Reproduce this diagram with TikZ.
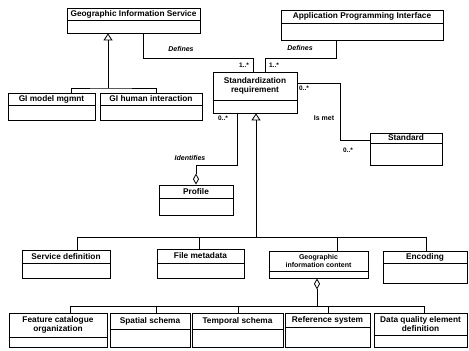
\documentclass[tikz,border=0pt]{standalone}
\usepackage{fontspec}
\setmainfont{Liberation Sans}
\usetikzlibrary{arrows.meta,fit}

\tikzset{
  line/.style={black, line width=0.8pt},
  cls/.style={draw, black, line width=0.8pt, inner sep=0pt},
  clsname/.style={font=\fontsize{8.3}{9.5}\selectfont\bfseries, align=center, inner sep=0pt},
  smallname/.style={font=\fontsize{7}{8}\selectfont\bfseries, align=center, inner sep=0pt},
  role/.style={font=\fontsize{7}{8}\selectfont\bfseries\itshape, inner sep=0pt},
  mult/.style={font=\fontsize{6.5}{7}\selectfont\bfseries, inner sep=0pt},
  gen/.style={line, -{Triangle[open, length=7pt, width=9pt]}},
  agg/.style={line, -{Diamond[open, length=11pt, width=6pt]}},
}

% class box: id, x1, y1, x2, y2, divider, name style, name
\newcommand{\umlclass}[8]{%
  \node[cls, fit={(#2,#3) (#4,#5)}] (#1) {};
  \draw[line] (#1.west |- 0,#6) -- (#1.east |- 0,#6);
  \node[#7] (#1-name) at ({(#2+#4)/2},{(#3+#6)/2}) {#8};
}

\begin{document}
\begin{tikzpicture}[x=1pt, y=-1pt]
\useasboundingbox (0,0) rectangle (469,351);

% Classes
\umlclass{gis}{67}{8}{200}{33}{20}{clsname}{Geographic Information Service}
\umlclass{api}{281}{10}{443}{40}{23}{clsname}{Application Programming Interface}
\umlclass{gimodel}{8}{93}{95}{120}{105}{clsname}{GI model mgmnt}
\umlclass{gihuman}{100}{93}{202}{120}{105}{clsname}{GI human interaction}
\umlclass{stdreq}{213}{72}{297}{113}{100}{clsname}{Standardization\\requirement}
\umlclass{standard}{370}{133}{442}{165}{143}{clsname}{Standard}
\umlclass{profile}{159}{185}{233}{215}{198}{clsname}{Profile}
\umlclass{servdef}{22}{250}{110}{278}{263}{clsname}{Service definition}
\umlclass{filemeta}{157}{249}{244}{278}{263}{clsname}{File metadata}
\umlclass{geoinfo}{269}{251}{368}{278}{271}{smallname}{Geographic\\information content}
\umlclass{encoding}{383}{251}{467}{283}{263}{clsname}{Encoding}
\umlclass{featcat}{9}{313}{107}{347}{337}{clsname}{Feature catalogue\\organization}
\umlclass{spatial}{110}{313}{190}{347}{329}{clsname}{Spatial schema}
\umlclass{temporal}{192}{313}{283}{347}{329}{clsname}{Temporal schema}
\umlclass{refsys}{285}{313}{370}{347}{327}{clsname}{Reference system}
\umlclass{dataq}{374}{313}{467}{347}{335}{clsname}{Data quality element\\definition}

% GI service specialisations
\coordinate (gisbar) at (108,88);
\draw[gen] (gisbar) -- (gisbar |- gis.south);
\draw[line] (gimodel.north -| 71,0) |- (gisbar) -| (gihuman.north -| 156,0);

% Defines
\coordinate (defl) at (253,58);
\coordinate (defr) at (265,58);
\draw[line] (gis.south -| 143,0) |- (defl) -- (defl |- stdreq.north);
\draw[line] (api.south -| 336,0) |- (defr) -- (defr |- stdreq.north);
\node[role] (defl-lbl) at (181,49) {Defines};
\node[role] (defr-lbl) at (300,48) {Defines};
\node[mult] (defl-m) at (244,65) {1..*};
\node[mult] (defr-m) at (274,65) {1..*};

% Is met
\coordinate (ismet) at (340,140);
\draw[line] (stdreq.east |- 0,83) -| (ismet) -- (ismet -| standard.west);
\node[mult] (ismet-m1) at (304,88) {0..*};
\node[font=\fontsize{7}{8}\selectfont\bfseries, inner sep=0pt] (ismet-lbl) at (324,118) {Is met};
\node[mult] (ismet-m2) at (348,150) {0..*};

% Identifies
\coordinate (ident) at (196,165);
\draw[agg] (stdreq.south -| 237,0) |- (ident) -- (ident |- profile.north);
\node[mult] (ident-m) at (223,118) {0..*};
\node[role] (ident-lbl) at (190,158) {Identifies};

% Standardization requirement specialisations
\coordinate (stdbar) at (256,237);
\draw[gen] (stdbar) -- (stdbar |- stdreq.south);
\draw[line] (stdbar -| 77,0) -- (stdbar -| 426,0);
\foreach \n/\x in {servdef/77, filemeta/199, geoinfo/337, encoding/426}
  \draw[line] (stdbar -| \x,0) -- (\n.north -| \x,0);

% Geographic information content parts
\coordinate (gicbar) at (317,306);
\draw[agg] (gicbar) -- (gicbar |- geoinfo.south);
\draw[line] (gicbar -| 70,0) -- (gicbar -| 424,0);
\foreach \n/\x in {featcat/70, spatial/156, temporal/238, refsys/328, dataq/424}
  \draw[line] (gicbar -| \x,0) -- (\n.north -| \x,0);

\end{tikzpicture}
\end{document}
